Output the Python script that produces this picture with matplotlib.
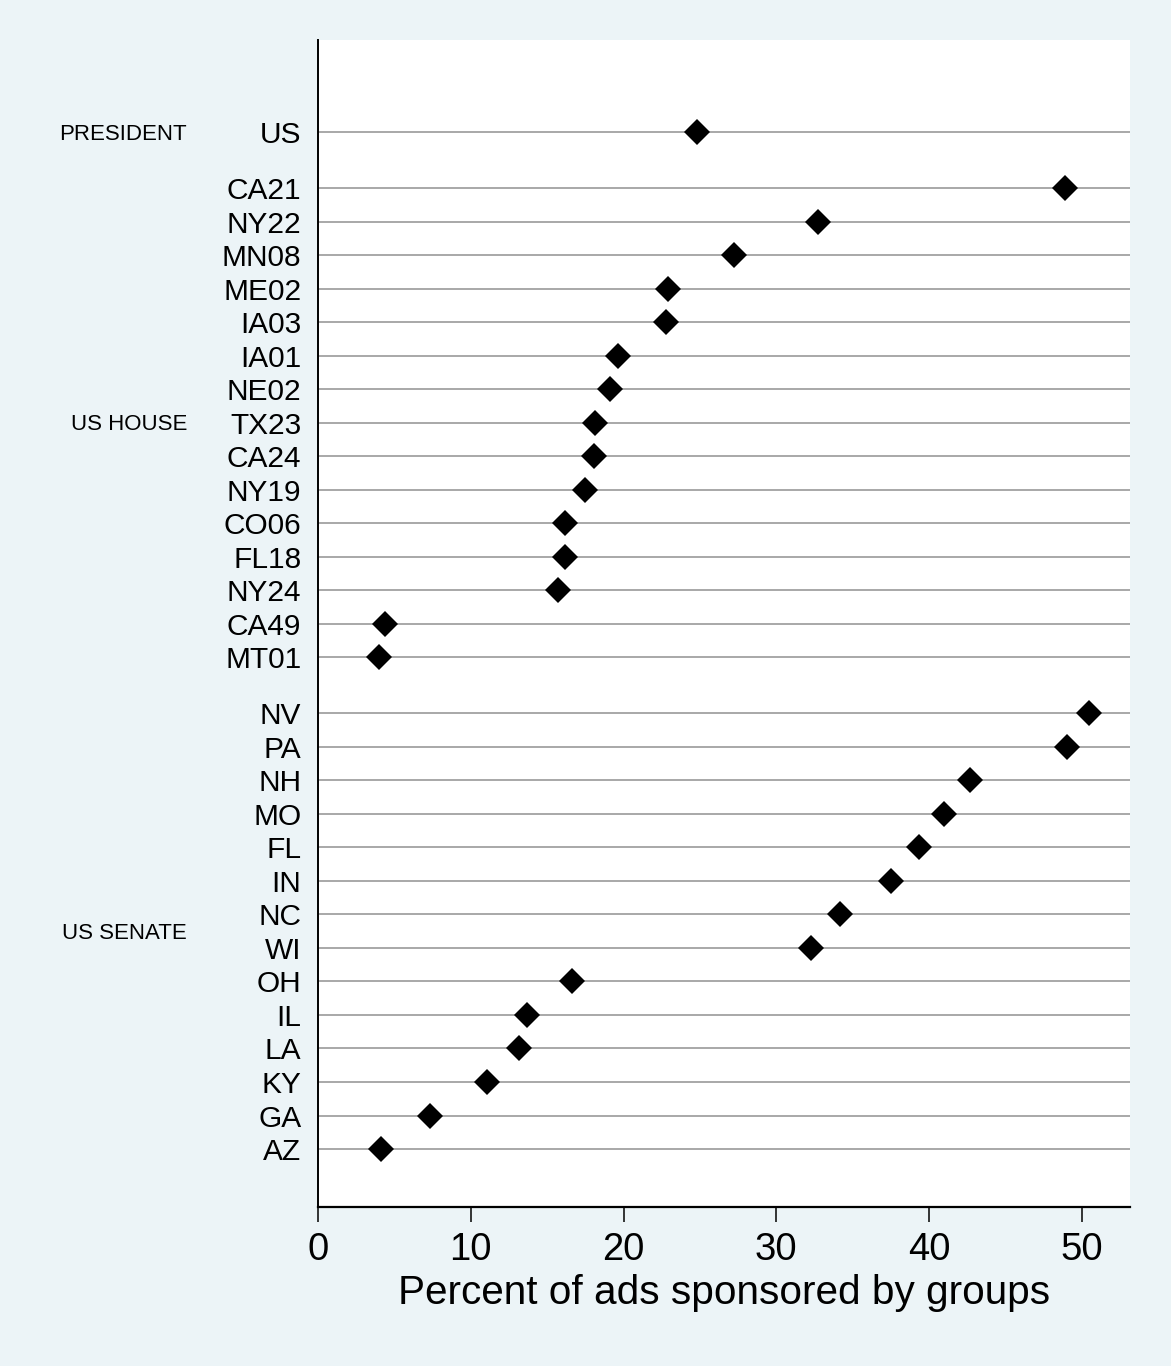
import matplotlib.pyplot as plt
import matplotlib.transforms as mtransforms

# races grouped by office, top to bottom as drawn
president_labels = ["US"]
president_vals = [24.8]

house_labels = ["CA21", "NY22", "MN08", "ME02", "IA03", "IA01", "NE02", "TX23",
                "CA24", "NY19", "CO06", "FL18", "NY24", "CA49", "MT01"]
house_vals = [48.9, 32.7, 27.2, 22.9, 22.75, 19.65, 19.1, 18.15,
              18.05, 17.45, 16.2, 16.2, 15.7, 4.4, 4.0]

senate_labels = ["NV", "PA", "NH", "MO", "FL", "IN", "NC", "WI",
                 "OH", "IL", "LA", "KY", "GA", "AZ"]
senate_vals = [50.45, 49.0, 42.65, 40.95, 39.35, 37.5, 34.15, 32.3,
               16.65, 13.65, 13.15, 11.05, 7.3, 4.1]

group_names = ["PRESIDENT", "US HOUSE", "US SENATE"]
groups = [(president_labels, president_vals),
          (house_labels, house_vals),
          (senate_labels, senate_vals)]

BG = "#ECF4F7"
GAP = 1.67  # spacing between office groups, in row units

plt.rcParams['font.family'] = ['Liberation Sans', 'DejaVu Sans']

fig = plt.figure(figsize=(11.71, 13.66), dpi=100, facecolor=BG)
ax = fig.add_axes([318 / 1171, 1 - 1207 / 1366, (1130 - 318) / 1171, (1207 - 40) / 1366])

ypos, ylabs, xvals, centers = [], [], [], []
pos = 0.0
for gi, (labs, vals) in enumerate(groups):
    if gi > 0:
        pos += GAP - 1
    start = pos
    for lab, v in zip(labs, vals):
        ypos.append(pos)
        ylabs.append(lab)
        xvals.append(v)
        pos += 1
    centers.append((start + pos - 1) / 2)

for y in ypos:
    ax.axhline(y, color="#9a9a9a", lw=1.2, zorder=1)
ax.plot(xvals, ypos, "D", color="black", ms=13.2, mew=0, ls="none", zorder=3)

ax.set_ylim(ypos[-1] + 1.73, -2.75)
ax.set_xlim(0, 53.15)
ax.set_yticks(ypos)
ax.set_yticklabels(ylabs, fontsize=21.5)
ax.tick_params(axis="y", length=0, pad=12)
ax.set_xticks([0, 10, 20, 30, 40, 50])
ax.tick_params(axis="x", length=11, width=1.1, labelsize=27.5, pad=7)
ax.set_xlabel("Percent of ads sponsored by groups", fontsize=29.2, labelpad=4)

for s in ["top", "right"]:
    ax.spines[s].set_visible(False)
ax.spines["left"].set_linewidth(1.4)
ax.spines["bottom"].set_linewidth(1.6)

# office labels to the left of the race names
trans = mtransforms.blended_transform_factory(fig.transFigure, ax.transData)
for name, c in zip(group_names, centers):
    ax.text(187 / 1171, c + 0.06, name, transform=trans,
            ha="right", va="center", fontsize=16)

fig.savefig("out.png", dpi=100, facecolor=BG)
